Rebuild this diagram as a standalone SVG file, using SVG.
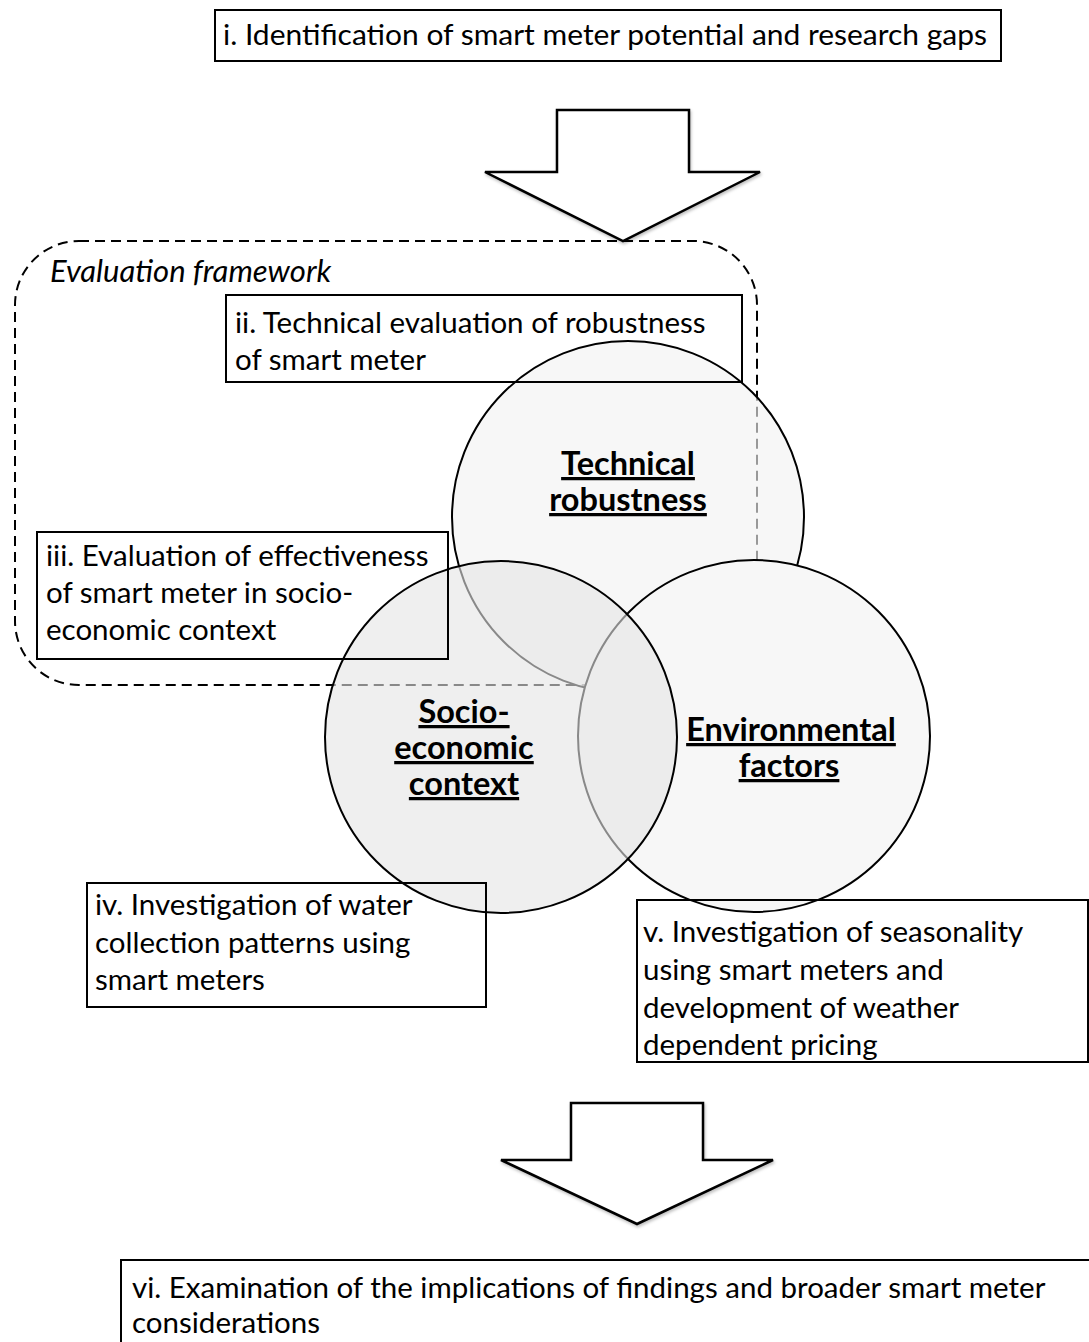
<svg xmlns="http://www.w3.org/2000/svg" width="1089" height="1342" viewBox="0 0 1089 1342">
  <defs>
    <filter id="soft" x="-10%" y="-10%" width="130%" height="130%">
      <feDropShadow dx="1" dy="2" stdDeviation="1.5" flood-color="#000" flood-opacity="0.25"/>
    </filter>
  </defs>
  <style>
    .t { font-family: Lato, "Liberation Sans", sans-serif; font-size: 29.5px; fill: #000; }
    .it { font-style: italic; font-size: 31px; }
    .lbl { font-family: Lato, "Liberation Sans", sans-serif; font-size: 32.5px; font-weight: bold; text-decoration: underline; text-anchor: middle; fill: #000; }
    .box { fill: none; stroke: #000; stroke-width: 2; }
    .frame { fill: none; stroke: #000; stroke-width: 2; stroke-dasharray: 10 6; }
    .circ { stroke: #000; stroke-width: 2; }
    .arrow { fill: #fff; stroke: #000; stroke-width: 2.5; stroke-linejoin: miter; filter: url(#soft); }
  </style>
  <rect width="1089" height="1342" fill="#fff"/>

  <!-- dashed outline grouping the evaluation framework -->
  <g id="framework">
    <rect class="frame" x="15" y="241" width="742" height="444" rx="64" ry="64"/>
    <text class="t it" x="50" y="282">Evaluation framework</text>
  </g>

  <!-- three overlapping evaluation areas -->
  <g id="circle-technical">
    <circle class="circ" cx="628" cy="517" r="176" fill="rgb(242,242,242)" fill-opacity="0.63"/>
  </g>
  <g id="circle-environmental">
    <circle class="circ" cx="754" cy="736" r="176" fill="#f7f7f7"/>
  </g>
  <g id="circle-socio">
    <circle class="circ" cx="501" cy="737" r="176" fill="rgb(228,228,228)" fill-opacity="0.6"/>
  </g>
  <g id="labels">
    <text class="lbl" x="628" y="475">Technical</text>
    <text class="lbl" x="628" y="511">robustness</text>
    <text class="lbl" x="464" y="723">Socio-</text>
    <text class="lbl" x="464" y="759">economic</text>
    <text class="lbl" x="464" y="795">context</text>
    <text class="lbl" x="791" y="741">Environmental</text>
    <text class="lbl" x="789" y="777">factors</text>
  </g>

  <!-- study steps -->
  <g id="box-i">
    <rect class="box" x="215" y="10" width="786" height="51"/>
    <text class="t" x="223" y="45" textLength="764" lengthAdjust="spacingAndGlyphs">i. Identification of smart meter potential and research gaps</text>
  </g>
  <g id="box-ii">
    <rect class="box" x="226" y="295" width="516" height="87"/>
    <text class="t" x="235" y="333">ii. Technical evaluation of robustness</text>
    <text class="t" x="235" y="370">of smart meter</text>
  </g>
  <g id="box-iii">
    <rect class="box" x="37" y="532" width="411" height="127"/>
    <text class="t" x="46" y="566">iii. Evaluation of effectiveness</text>
    <text class="t" x="46" y="603">of smart meter in socio-</text>
    <text class="t" x="46" y="640">economic context</text>
  </g>
  <g id="box-iv">
    <rect class="box" x="87" y="883" width="399" height="124"/>
    <text class="t" x="95" y="915">iv. Investigation of water</text>
    <text class="t" x="95" y="953">collection patterns using</text>
    <text class="t" x="95" y="990">smart meters</text>
  </g>
  <g id="box-v">
    <rect class="box" x="637" y="900" width="451" height="162"/>
    <text class="t" x="643" y="942">v. Investigation of seasonality</text>
    <text class="t" x="643" y="980">using smart meters and</text>
    <text class="t" x="643" y="1018">development of weather</text>
    <text class="t" x="643" y="1055">dependent pricing</text>
  </g>
  <g id="box-vi">
    <rect class="box" x="121" y="1260" width="990" height="100"/>
    <text class="t" x="132" y="1298">vi. Examination of the implications of findings and broader smart meter</text>
    <text class="t" x="132" y="1333">considerations</text>
  </g>

  <!-- block arrows between stages -->
  <g id="connectors">
    <polygon class="arrow" points="557,110 689,110 689,172 760,172 623,241 485,172 557,172"/>
    <polygon class="arrow" points="571,1103 703,1103 703,1160 773,1160 637,1224 501,1160 571,1160"/>
  </g>
</svg>
